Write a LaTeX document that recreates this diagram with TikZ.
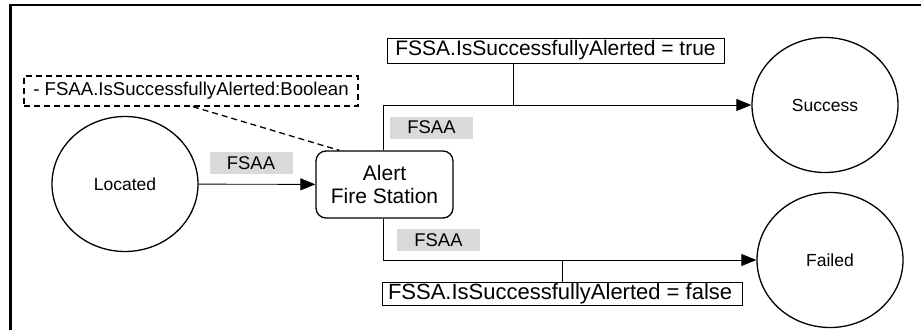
\documentclass[tikz,border=0pt]{standalone}
\usepackage{fontspec}
\setmainfont{Liberation Sans}
\usepackage{xcolor}
\usetikzlibrary{shapes.geometric,arrows.meta,positioning,calc}
\definecolor{lblgray}{RGB}{217,217,217}

\begin{document}
\begin{tikzpicture}[
    x=1pt, y=-1pt,
    state/.style={ellipse, draw, line width=1.3pt, minimum width=146pt, minimum height=135pt, inner sep=0pt, font=\fontsize{17.5}{20}\selectfont},
    action/.style={rectangle, draw, rounded corners=10pt, line width=1.3pt, minimum width=137pt, minimum height=67pt, align=center, font=\fontsize{21}{24}\selectfont},
    guard/.style={rectangle, draw, line width=0.8pt, inner sep=0pt, font=\fontsize{21}{24}\selectfont},
    flowlbl/.style={rectangle, fill=lblgray, inner sep=0pt, minimum width=83pt, minimum height=22pt, font=\fontsize{18.4}{20}\selectfont},
    attr/.style={rectangle, draw, dashed, dash pattern=on 6pt off 4pt, line width=1.4pt, inner sep=0pt, minimum width=334pt, minimum height=30pt, font=\fontsize{18.6}{20}\selectfont},
    arrow/.style={-{Triangle[length=15pt, width=12pt]}, line width=0.9pt},
    tick/.style={line width=0.8pt}
]
    \useasboundingbox (0,0) rectangle (921,330);

    % Frame (left and top edges)
    \draw[line width=2.2pt] (10.5,330) -- (10.5,5) -- (921,5);

    % States
    \node[state] (located) at (125,184) {Located};
    \node[state] (success) at (825,105) {Success};
    \node[state] (failed) at (830,260) {Failed};

    % Action
    \node[action] (alert) at (384.5,184.5) {Alert\\[-1pt]Fire Station};

    % Attribute
    \node[attr] (attrbox) at (191,91) {- FSAA.IsSuccessfullyAlerted:Boolean\hspace{8pt}};

    % Guards
    \node[guard, minimum width=337pt, minimum height=25pt] (truelbl) at (555.5,50.5) {FSSA.IsSuccessfullyAlerted = true};
    \node[guard, minimum width=360pt, minimum height=23pt, font=\fontsize{22}{24}\selectfont] (falselbl) at (562,293.5) {\hspace{3pt}\makebox[351pt][l]{FSSA.IsSuccessfullyAlerted = false}};

    % Flow labels
    \node[flowlbl] (lbl1) at (251,163) {FSAA};
    \node[flowlbl] (lbl2) at (431.5,127.5) {FSAA};
    \node[flowlbl] (lbl3) at (438.5,240) {FSAA};

    % Transitions
    \draw[arrow] (located) -- (alert);
    \draw[arrow] ([xshift=-1.5pt]alert.north) |- (success.west);
    \draw[arrow] ([xshift=-1.5pt]alert.south) |- (failed.west);

    % Guard ticks
    \coordinate (ttick) at ($(truelbl.south)+(-42.5,0)$);
    \draw[tick] (ttick) -- (ttick |- success.west);
    \draw[tick] (falselbl.north) -- (falselbl.north |- failed.west);

    % Attribute link
    \draw[dashed, dash pattern=on 6pt off 4pt, line width=1.3pt] ([xshift=2pt]attrbox.south) -- ([xshift=24pt]alert.north west);
\end{tikzpicture}
\end{document}
